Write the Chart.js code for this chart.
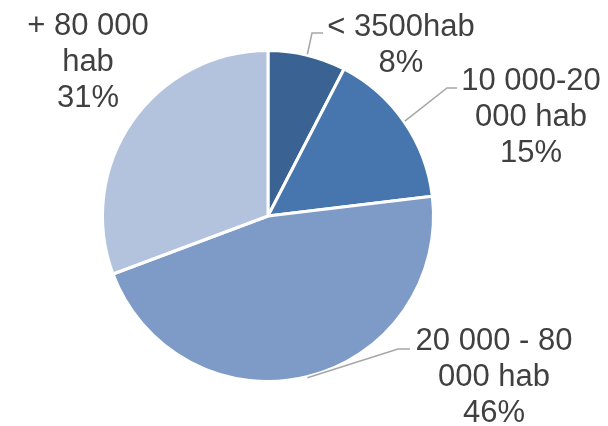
<!DOCTYPE html>
<html>
<head>
<meta charset="utf-8">
<script src="https://cdn.jsdelivr.net/npm/chart.js@4/dist/chart.umd.min.js"></script>
<style>
html,body{margin:0;padding:0;background:#fff;}
#wrap{width:608px;height:426px;}
</style>
</head>
<body>
<div id="wrap"><canvas id="c" width="608" height="426"></canvas></div>
<script>
const categories = ["< 3500hab", "10 000-20 000 hab", "20 000 - 80 000 hab", "+ 80 000 hab"];
const values = [7.6, 15.5, 46.2, 30.7];
const labelLines = [["< 3500hab"], ["10 000-20", "000 hab"], ["20 000 - 80", "000 hab"], ["+ 80 000", "hab"]];
const colors = ["#3A6394", "#4775AE", "#7E9BC8", "#B3C3DE"];

// label placement (annotation layout)
const labelPos = [
  {x: 401, y: 36, elbow: [312, 33], end: [323, 33]},
  {x: 531, y: 90, elbow: [447, 88], end: [457, 88]},
  {x: 494, y: 350, elbow: [398, 349], end: [410, 349]},
  {x: 88, y: 35, elbow: null, end: null}
];

const total = values.reduce((a, b) => a + b, 0);

const labelPlugin = {
  id: 'pieLabels',
  afterDatasetsDraw(chart) {
    const ctx = chart.ctx;
    const meta = chart.getDatasetMeta(0);
    ctx.save();
    meta.data.forEach((arc, i) => {
      const p = labelPos[i];
      const mid = (arc.startAngle + arc.endAngle) / 2;
      if (p.elbow) {
        const sx = arc.x + Math.cos(mid) * (arc.outerRadius + 1);
        const sy = arc.y + Math.sin(mid) * (arc.outerRadius + 1);
        ctx.strokeStyle = '#A6A6A6';
        ctx.lineWidth = 1.5;
        ctx.beginPath();
        ctx.moveTo(sx, sy);
        ctx.lineTo(p.elbow[0], p.elbow[1]);
        ctx.lineTo(p.end[0], p.end[1]);
        ctx.stroke();
      }
      const lines = labelLines[i].concat([Math.round(values[i] / total * 100) + '%']);
      ctx.fillStyle = '#404040';
      ctx.font = '31px "Liberation Sans", Arial, sans-serif';
      ctx.textAlign = 'center';
      ctx.textBaseline = 'alphabetic';
      lines.forEach((t, k) => ctx.fillText(t, p.x, p.y + k * 36));
    });
    ctx.restore();
  }
};

new Chart(document.getElementById('c'), {
  type: 'pie',
  data: {
    labels: categories,
    datasets: [{
      data: values,
      backgroundColor: colors,
      borderColor: '#ffffff',
      borderWidth: 3
    }]
  },
  options: {
    responsive: false,
    animation: false,
    devicePixelRatio: 1,
    layout: {padding: {left: 101, right: 173, top: 49, bottom: 43}},
    plugins: {legend: {display: false}, tooltip: {enabled: false}}
  },
  plugins: [labelPlugin]
});
</script>
</body>
</html>
